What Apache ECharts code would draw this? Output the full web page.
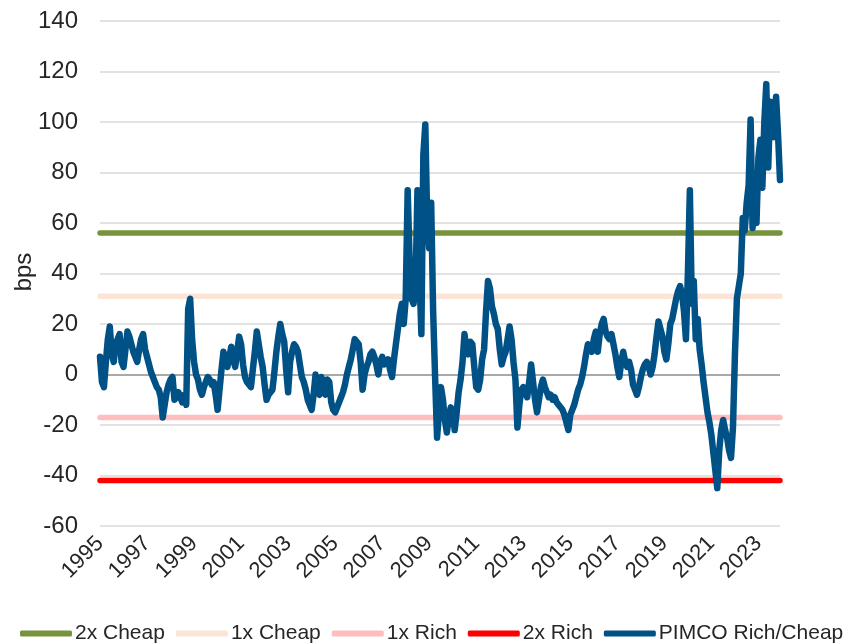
<!DOCTYPE html>
<html>
<head>
<meta charset="utf-8">
<script src="https://cdn.jsdelivr.net/npm/echarts@6/dist/echarts.min.js"></script>
<style>
html,body{margin:0;padding:0;background:#fff;}
#chart{width:857px;height:644px;}
</style>
</head>
<body>
<div id="chart"></div>
<script>
// Monthly PIMCO rich/cheap values (bps), Jan 1995 - Dec 2023
var pimco1995_1999 = [
  7,-3,-5,5,14,19,8,5,12,14,16,5,
  3,10,17,15,12,9,7,5,10,14,16,10,
  7,4,1,-1,-3,-5,-6,-9,-17,-12,-7,-4,
  -2,-1,-10,-9,-7,-9,-11,-8,-12,26,30,14,
  5,0,-2,-6,-8,-5,-3,-1,-2,-4,-3,-8
];
var pimco2000_2004 = [
  -14,-6,2,9,5,3,7,11,6,3,9,15,
  12,4,-1,-3,-4,-5,2,9,17,12,7,3,
  -4,-10,-8,-7,-6,1,9,15,20,16,13,2,
  -7,5,9,12,11,9,4,-1,-3,-6,-10,-12,
  -14,-8,0,-7,-8,-1,-4,-8,-2,-3,-11,-14
];
var pimco2005_2009 = [
  -15,-13,-11,-9,-7,-4,0,3,6,10,14,13,
  12,5,-6,0,3,5,8,9,7,4,0,5,
  7,4,4,6,2,-1,6,12,18,24,28,20,
  30,73,45,30,28,35,73,40,16,87,99,60,
  50,68,25,-1,-25,-15,-5,-10,-18,-23,-17,-13
];
var pimco2010_2014 = [
  -15,-22,-15,-7,-2,5,16,10,8,13,12,3,
  -5,-6,-2,6,10,25,37,34,27,24,20,18,
  10,4,7,9,14,19,14,5,-2,-21,-12,-6,
  -5,-7,-9,-3,4,-3,-10,-15,-10,-5,-2,-5,
  -7,-9,-8,-10,-9,-11,-12,-13,-14,-16,-19,-22
];
var pimco2015_2019 = [
  -16,-14,-12,-9,-6,-4,-1,3,8,12,11,9,
  14,17,9,16,20,22,17,15,14,16,12,8,
  3,-1,5,9,5,3,5,2,-4,-6,-8,-5,
  -1,2,4,5,3,0,3,8,15,21,18,15,
  9,6,12,20,22,26,30,33,35,32,25,14
];
var pimco2020_2023 = [
  40,73,28,37,14,22,10,4,-3,-9,-15,-19,
  -24,-31,-38,-45,-30,-22,-18,-22,-25,-30,-33,-21,
  8,30,35,40,62,57,68,75,101,58,70,60,
  86,93,74,100,115,82,108,100,94,110,95,77
];
var pimco = [].concat(pimco1995_1999, pimco2000_2004, pimco2005_2009,
                      pimco2010_2014, pimco2015_2019, pimco2020_2023);

// Band levels (bps)
var CHEAP_2X = 56;
var CHEAP_1X = 31;
var RICH_1X = -17;
var RICH_2X = -42;

var START_YEAR = 1995;
var months = [];
for (var i = 0; i < pimco.length; i++) {
  var y = START_YEAR + Math.floor(i / 12);
  var m = (i % 12) + 1;
  months.push(y + '-' + (m < 10 ? '0' + m : m));
}
var first = months[0], last = months[months.length - 1];

var yTicks = { min: -60, max: 140, step: 20 };
var gridColors = [];
for (var v = yTicks.min; v <= yTicks.max; v += yTicks.step) {
  gridColors.push(v === 0 ? '#8c8c8c' : '#d9d9d9');
}

var FONT = 'Liberation Sans, Arial, sans-serif';
function band(name, val, color) {
  return {
    name: name, type: 'line', data: [[first, val], [last, val]],
    symbol: 'none', silent: true,
    lineStyle: { color: color, width: 5.5, cap: 'round' },
    itemStyle: { color: color }
  };
}

var chart = echarts.init(document.getElementById('chart'));
chart.setOption({
  animation: false,
  backgroundColor: '#fff',
  grid: { left: 100, right: 77, top: 21, bottom: 118 },
  xAxis: {
    type: 'category', data: months, boundaryGap: false,
    axisLine: { show: false }, axisTick: { show: false },
    splitLine: { show: false },
    axisLabel: {
      interval: 23, rotate: 45, margin: 14,
      fontFamily: FONT, fontSize: 22, color: '#262626',
      formatter: function (v) { return v.slice(0, 4); }
    }
  },
  yAxis: {
    type: 'value', min: yTicks.min, max: yTicks.max, interval: yTicks.step,
    axisLine: { show: false }, axisTick: { show: false },
    axisLabel: { margin: 22, fontFamily: FONT, fontSize: 24, color: '#262626' },
    splitLine: { lineStyle: { color: gridColors, width: 1.5 } }
  },
  legend: {
    left: 15, top: 618, itemGap: 11, itemWidth: 52, itemHeight: 6,
    icon: 'roundRect',
    textStyle: { fontFamily: FONT, fontSize: 21, color: '#262626', padding: [0, 0, 0, -2] },
    data: ['2x Cheap', '1x Cheap', '1x Rich', '2x Rich', 'PIMCO Rich/Cheap']
  },
  graphic: [{
    type: 'text', x: 24, y: 272, rotation: Math.PI / 2,
    style: { text: 'bps', font: '24px ' + FONT, fill: '#262626',
             textAlign: 'center', textVerticalAlign: 'middle' }
  }],
  series: [
    band('2x Cheap', CHEAP_2X, '#77933c'),
    band('1x Cheap', CHEAP_1X, '#fce4d6'),
    band('1x Rich', RICH_1X, '#ffbdbd'),
    band('2x Rich', RICH_2X, '#ff0000'),
    {
      name: 'PIMCO Rich/Cheap', type: 'line', data: pimco,
      symbol: 'none', z: 5,
      lineStyle: { color: '#005286', width: 6.5, cap: 'round', join: 'round' },
      itemStyle: { color: '#005286' }
    }
  ]
});
</script>
</body>
</html>
